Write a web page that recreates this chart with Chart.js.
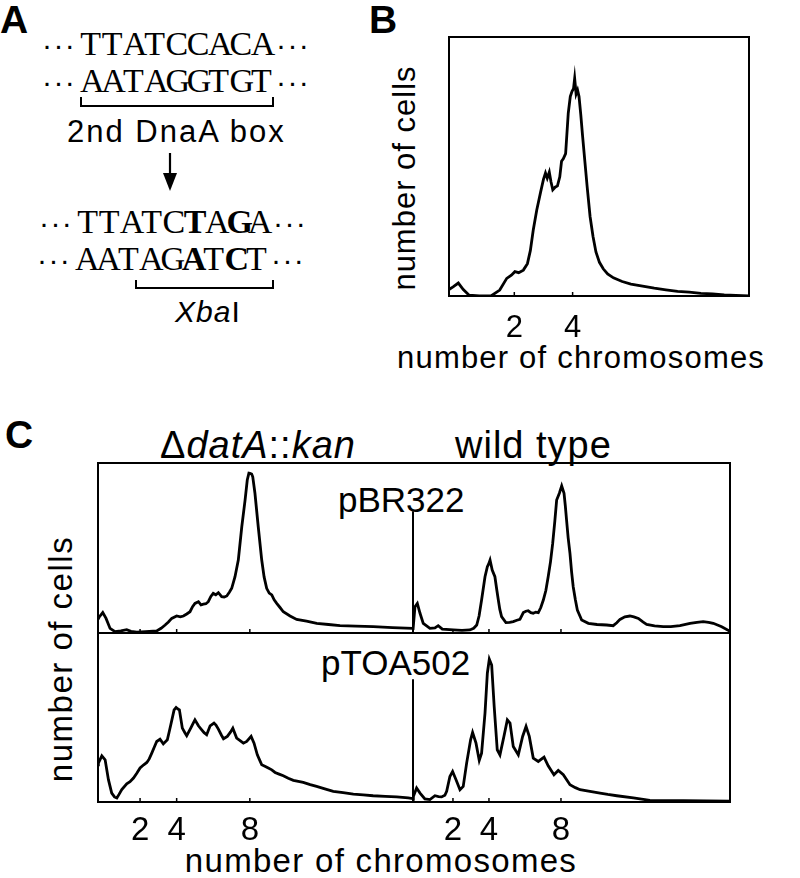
<!DOCTYPE html>
<html>
<head>
<meta charset="utf-8">
<script src="https://cdn.jsdelivr.net/npm/chart.js@4.4.1/dist/chart.umd.min.js"></script>
<style>
body { margin:0; background:#fff; width:800px; height:878px; position:relative; overflow:hidden;
       font-family:"Liberation Sans", Arial, sans-serif; color:#000; }
.t { position:absolute; white-space:nowrap; line-height:1; }
canvas { position:absolute; }
.cell { display:inline-block; width:21.35px; text-align:center; }
</style>
</head>
<body>
<svg width="800" height="878" style="position:absolute;left:0;top:0">
  <path d="M81,97 V106 H273 V97" fill="none" stroke="#000" stroke-width="2"/>
  <path d="M136,280 V288 H273 V280" fill="none" stroke="#000" stroke-width="2"/>
  <line x1="170" y1="153" x2="170" y2="176" stroke="#000" stroke-width="2.2"/>
  <path d="M163,173 L177,173 L170,191 Z" fill="#000"/>
</svg>
<script>
// panel B: DNA content histogram (x = chromosomes, y = relative cell count)
var bX = [-0.24, -0.1, 0.08, 0.25, 0.45, 0.8, 1.2, 1.5, 1.74, 1.9, 2.02, 2.15, 2.31, 2.45, 2.55, 2.65, 2.77, 2.9, 3.0, 3.07,
          3.13, 3.2, 3.26, 3.32, 3.4, 3.48, 3.56, 3.62, 3.68, 3.76, 3.85, 3.92, 3.98, 4.03, 4.07, 4.12, 4.17, 4.22, 4.28, 4.34,
          4.42, 4.5, 4.6, 4.7, 4.8, 4.92, 5.05, 5.2, 5.4, 5.7, 6.0, 6.4, 6.8, 7.2, 7.6, 8.0, 8.4, 8.8, 9.2, 9.6, 10.05];
var bY = [2.5, 3.5, 5.0, 2.5, 0.3, 0, 0, 2.3, 6.8, 8.0, 9.4, 9.0, 10.0, 12.5, 17.5, 25.5, 33.2, 40.0, 45.0, 47.5,
          45.5, 47.8, 44.0, 41.0, 42.0, 42.5, 46.0, 52.0, 53.0, 55.0, 70.5, 77.0, 79.0, 80.0, 84.0, 78.0, 79.5, 77.0, 70.0, 62.0,
          52.0, 42.0, 30.6, 23.0, 17.0, 13.0, 10.5, 8.5, 7.0, 5.6, 4.6, 3.8, 3.0, 2.4, 1.8, 1.5, 1.0, 0.8, 0.4, 0.2, 0];

// panel C, top left: dataA::kan + pBR322
var tlX = [-0.3, -0.22, -0.04, 0.14, 0.36, 0.63, 0.95, 1.27, 1.5, 1.82, 2.3, 2.91, 3.15, 3.37, 3.55, 3.73, 4.0, 4.2, 4.37, 4.55,
           4.73, 4.87, 5.0, 5.19, 5.33, 5.46, 5.6, 5.73, 5.87, 6.0, 6.14, 6.28, 6.46, 6.6, 6.74, 6.88, 7.01, 7.19, 7.37, 7.56,
           7.74, 7.86, 7.95, 8.01, 8.1, 8.16, 8.28, 8.46, 8.65, 8.78, 8.92, 9.06, 9.2, 9.33, 9.47, 9.65, 9.83, 10.2, 10.56, 11.1,
           11.66, 12.3, 12.93, 13.8, 14.75, 15.8, 16.92];
var tlY = [8, 9.6, 12, 8.6, 2.7, 0.8, 1.2, 2, 1.0, 0.5, 0.8, 1.2, 2.8, 4.7, 6.5, 8.6, 10, 9.5, 10, 11.2,
           12.5, 15.5, 17.4, 18.4, 16.5, 17, 17.2, 18.4, 21.5, 23.3, 22.5, 23.7, 21.4, 21.2, 21.8, 24, 26.3, 33.1, 42.9, 62.5,
           78.2, 90, 94, 93.9, 93.5, 91.9, 82.2, 62.5, 42.9, 33, 26.3, 23.5, 22.4, 19.5, 17.4, 15, 12.5, 10, 8, 7,
           5.7, 5, 4.3, 4.0, 3.7, 3.2, 2.7];

// panel C, top right: wild type + pBR322
var trX = [-0.22, -0.11, 0.02, 0.17, 0.35, 0.72, 1.0, 1.18, 1.41, 2.02, 2.5, 2.94, 3.15, 3.32, 3.45, 3.59, 3.78, 3.91, 3.98, 4.06,
           4.12, 4.18, 4.33, 4.44, 4.52, 4.6, 4.7, 4.94, 5.15, 5.35, 5.55, 5.72, 5.91, 6.05, 6.18, 6.33, 6.46, 6.6, 6.74, 6.88,
           7.02, 7.16, 7.29, 7.42, 7.54, 7.66, 7.76, 7.91, 8.04, 8.17, 8.24, 8.31, 8.4, 8.5, 8.59, 8.68, 8.8, 8.91, 9.15, 9.52,
           10.0, 10.54, 10.9, 11.1, 11.28, 11.55, 11.83, 12.05, 12.3, 12.55, 12.76, 13.2, 13.68, 14.1, 14.61, 15.17, 15.55, 15.9, 16.2, 16.46,
           16.93, 17.39];
var trY = [1.8, 15.5, 17.4, 11.6, 5.7, 2.7, 3.0, 4.3, 2.3, 1.8, 1.5, 1.8, 2.8, 4.7, 10, 19.4, 33.1, 39, 40.5, 42.9,
           40, 37, 33.1, 25, 19.4, 14, 9.6, 6.1, 6.3, 6.7, 7.5, 8, 12, 12.8, 13.1, 12, 11.6, 12.3, 12, 15,
           19.4, 25, 33.1, 42, 52.7, 66, 78.2, 82.2, 86.5, 82.2, 75, 66.5, 56, 46.9, 36, 27.2, 19.5, 13.5, 7.6, 5.7,
           5.0, 4.7, 4.3, 6, 8, 9.5, 10, 9.5, 8.6, 6.5, 5.1, 4.2, 3.7, 3.8, 4.3, 5.7, 6.3, 6.7, 6.3, 5.7,
           3.7, 1.0];

// panel C, bottom left: dataA::kan + pTOA502
var blX = [-0.3, -0.28, -0.09, 0.09, 0.27, 0.45, 0.6, 0.73, 0.85, 1.0, 1.27, 1.45, 1.64, 1.82, 2.0, 2.2, 2.37, 2.5, 2.64, 2.78,
           2.91, 3.09, 3.27, 3.49, 3.58, 3.68, 3.86, 3.97, 4.07, 4.15, 4.31, 4.45, 4.55, 4.77, 4.9, 5.0, 5.19, 5.37, 5.5, 5.64,
           5.83, 6.04, 6.15, 6.28, 6.45, 6.56, 6.77, 6.95, 7.07, 7.28, 7.45, 7.65, 7.83, 8.07, 8.23, 8.41, 8.55, 8.65, 8.85, 9.01,
           9.2, 9.38, 9.6, 9.83, 10.1, 10.38, 10.65, 10.92, 11.3, 11.65, 12.1, 12.56, 13.1, 13.66, 14.2, 14.74, 15.4, 16.03, 16.66, 16.92];
var blY = [22, 23, 27.3, 25, 13.2, 5.3, 3.0, 2.4, 4.5, 7.3, 10.8, 12, 14.2, 17, 20.1, 22, 23.4, 25.5, 28.9, 32.5,
           35.8, 37.2, 34.4, 36.8, 41, 45.7, 54.5, 55.9, 55, 54.5, 43.7, 41, 39.2, 43.7, 46.5, 48.6, 45.1, 42.7, 41, 39.8,
           45.1, 46.7, 45.5, 43.1, 39.5, 37.4, 38.8, 41.5, 43.7, 37.8, 36.5, 34.8, 35.8, 38.8, 34.8, 27.9, 24.5, 22, 21, 20.1,
           19, 17.5, 16.5, 15.5, 14, 12.8, 12.2, 11.6, 10.3, 9.2, 7.8, 6.3, 5.5, 4.7, 4.2, 3.7, 3.3, 3.0, 2.4, 2.0];

// panel C, bottom right: wild type + pTOA502
var brX = [-0.22, -0.2, -0.02, 0.17, 0.44, 0.72, 1.0, 1.2, 1.37, 1.55, 1.65, 1.83, 1.98, 2.17, 2.39, 2.57, 2.76, 2.98, 3.09, 3.28,
           3.46, 3.59, 3.78, 3.91, 4.02, 4.15, 4.29, 4.46, 4.61, 4.83, 5.02, 5.17, 5.35, 5.63, 5.87, 6.06, 6.24, 6.46, 6.74, 7.06,
           7.29, 7.61, 7.85, 8.13, 8.5, 8.8, 9.06, 9.61, 10.17, 10.6, 11.1, 12.02, 12.94, 14.8, 17.39];
var brY = [1.5, 3.3, 8.3, 5.3, 1.8, 1.4, 3.7, 3.2, 3.0, 4, 6.3, 15.1, 18.1, 13.2, 7.3, 9.2, 23, 36.8, 41.1, 34.8,
           24.6, 28.9, 52.6, 76.2, 84.5, 81.1, 56.5, 30.9, 27.9, 38.8, 48.6, 46.7, 32.8, 27.9, 38.8, 44.7, 38.8, 26, 24, 26.6,
           21.4, 16.1, 18.7, 16.1, 10.2, 8.5, 7.3, 6.3, 5.3, 4.5, 3.7, 2.4, 1.0, 0.8, 0.5];

var bTicks = [2, 4];
var cTicks = [2, 4, 8];

// ---- text helpers ----
function put(html, x, base, size, css, align) {
  var d = document.createElement('div');
  d.className = 't';
  d.innerHTML = html;
  d.style.fontSize = size + 'px';
  d.style.left = x + 'px';
  d.style.top = (base - 0.8465 * size) + 'px';
  if (css) d.style.cssText += css;
  if (align === 'center') d.style.transform = 'translateX(-50%)';
  document.body.appendChild(d);
  return d;
}
function putV(text, cx, cy, size, css) {
  var d = document.createElement('div');
  d.className = 't';
  d.textContent = text;
  d.style.fontSize = size + 'px';
  d.style.left = cx + 'px';
  d.style.top = cy + 'px';
  if (css) d.style.cssText += css;
  d.style.transform = 'translate(-50%,-50%) rotate(-90deg)';
  document.body.appendChild(d);
}
function seq(letters, bold, x0, base) {
  var h = '';
  for (var i = 0; i < letters.length; i++) {
    h += '<span class="cell"' + (bold[i] === '1' ? ' style="font-weight:bold"' : '') + '>' + letters[i] + '</span>';
  }
  var d = put(h, x0, base, 34, 'font-family:"Liberation Serif",serif;');
  d.style.top = (base - 0.8375 * 34) + 'px';
  put('&middot;&middot;&middot;', x0 - 38, base, 30, 'letter-spacing:1.4px;');
  put('&middot;&middot;&middot;', x0 + 196, base, 30, 'letter-spacing:1.4px;');
}

// panel labels
put('A', 0, 33, 39, 'font-weight:bold;');
put('B', 369, 33, 39, 'font-weight:bold;');
put('C', 5, 448, 39, 'font-weight:bold;');

// panel A
seq('TTATCCACA', '000000000', 80, 55);
seq('AATAGGTGT', '000000000', 80, 92);
put('2nd DnaA box', 67, 142, 31, 'letter-spacing:2px;');
seq('TTATCTAGA', '000001010', 77, 233);
seq('AATAGATCT', '000001010', 75, 270);
put('<i>Xba</i>I', 175, 322, 30, 'letter-spacing:1px;');

// panel B labels
putV('number of cells', 404, 178, 31, 'letter-spacing:1px;');
put('number of chromosomes', 397, 368, 31, 'letter-spacing:1.2px;');

// panel C labels
put('&Delta;<i>datA</i>::<i>kan</i>', 160, 458, 38, 'letter-spacing:1px;');
put('wild type', 455, 458, 38, 'letter-spacing:1px;');
put('pBR322', 338, 512, 35);
put('pTOA502', 321, 675, 35);
putV('number of cells', 60, 659, 33, 'letter-spacing:1.5px;');
put('number of chromosomes', 381, 872, 33, 'letter-spacing:1.3px;', 'center');

// ---- frame plugin: box sides, divider, inward ticks, tick labels ----
var framePlugin = {
  id: 'frame',
  afterDraw: function (chart, args, o) {
    var a = chart.chartArea, c = chart.ctx, xs = chart.scales.x;
    c.save();
    c.strokeStyle = '#000';
    c.fillStyle = '#000';
    c.lineWidth = 2;
    c.lineCap = 'square';
    c.beginPath();
    if (o.top) { c.moveTo(a.left, a.top); c.lineTo(a.right, a.top); }
    if (o.bottom) { c.moveTo(a.left, a.bottom); c.lineTo(a.right, a.bottom); }
    if (o.left) { c.moveTo(a.left, a.top); c.lineTo(a.left, a.bottom); }
    if (o.right) { c.moveTo(a.right, a.top); c.lineTo(a.right, a.bottom); }
    c.stroke();
    if (o.divider != null) {
      c.beginPath();
      c.moveTo(a.left, a.top + o.divider * (a.bottom - a.top));
      c.lineTo(a.left, a.bottom);
      c.stroke();
    }
    c.lineWidth = 1.5;
    c.lineCap = 'butt';
    (o.ticks || []).forEach(function (v) {
      var px = xs.getPixelForValue(v);
      c.beginPath();
      c.moveTo(px, a.bottom);
      c.lineTo(px, a.bottom - 4);
      c.stroke();
    });
    if (o.labels) {
      c.font = o.labelSize + 'px "Liberation Sans", Arial, sans-serif';
      c.textAlign = 'center';
      c.textBaseline = 'alphabetic';
      o.ticks.forEach(function (v) {
        c.fillText(String(v), xs.getPixelForValue(v), a.bottom + o.labelOffset);
      });
    }
    c.restore();
  }
};

function hist(xs, ys, box, pad, xMin, xMax, frame) {
  var cv = document.createElement('canvas');
  cv.width = box.w + pad.l + pad.r;
  cv.height = box.h + pad.t + pad.b;
  cv.style.left = (box.x - pad.l) + 'px';
  cv.style.top = (box.y - pad.t) + 'px';
  document.body.appendChild(cv);
  var pts = xs.map(function (x, i) { return { x: x, y: ys[i] }; });
  return new Chart(cv, {
    type: 'line',
    data: { datasets: [{ data: pts, borderColor: '#000', borderWidth: 2.8, pointRadius: 0, tension: 0, fill: false }] },
    options: {
      responsive: false,
      animation: false,
      layout: { padding: { left: pad.l, top: pad.t, right: pad.r, bottom: pad.b } },
      plugins: { legend: { display: false }, tooltip: { enabled: false }, frame: frame },
      scales: {
        x: { type: 'linear', min: xMin, max: xMax, display: false },
        y: { min: 0, max: 100, display: false }
      }
    },
    plugins: [framePlugin]
  });
}

var padTop = { l: 3, t: 3, r: 3, b: 3 };
var padBot = { l: 3, t: 3, r: 3, b: 50 };

hist(bX, bY, { x: 449, y: 37, w: 300, h: 259 }, padBot, -0.24, 10.05,
  { top: true, bottom: true, left: true, right: true, ticks: bTicks, labels: true, labelSize: 31, labelOffset: 41 });

hist(tlX, tlY, { x: 98, y: 463, w: 315, h: 170 }, padTop, -0.3, 16.92,
  { top: true, bottom: true, left: true, ticks: cTicks });
hist(trX, trY, { x: 413, y: 463, w: 317, h: 170 }, padTop, -0.22, 17.39,
  { top: true, bottom: true, right: true, divider: 0.29, ticks: cTicks });
hist(blX, blY, { x: 98, y: 633, w: 315, h: 169 }, padBot, -0.3, 16.92,
  { top: true, bottom: true, left: true, ticks: cTicks, labels: true, labelSize: 33, labelOffset: 38 });
hist(brX, brY, { x: 413, y: 633, w: 317, h: 169 }, padBot, -0.22, 17.39,
  { top: true, bottom: true, right: true, divider: 0.28, ticks: cTicks, labels: true, labelSize: 33, labelOffset: 38 });
</script>
</body>
</html>
